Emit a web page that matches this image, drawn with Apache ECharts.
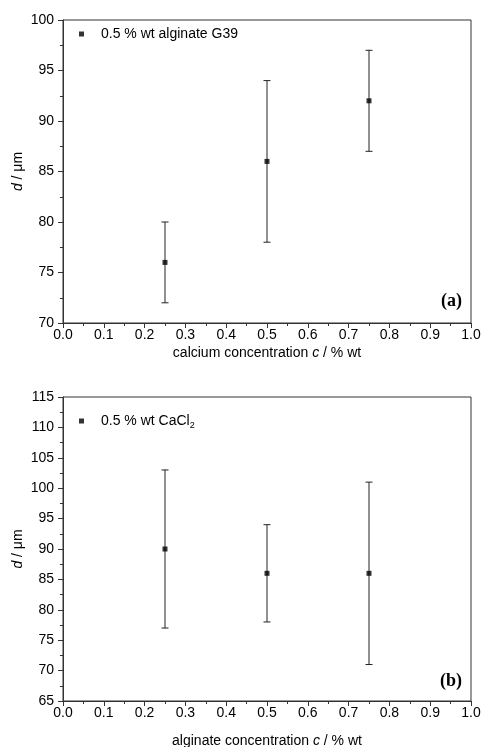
<!DOCTYPE html>
<html><head><meta charset="utf-8">
<script src="https://cdn.jsdelivr.net/npm/echarts@6/dist/echarts.min.js"></script>
<style>html,body{margin:0;padding:0;background:#fff}#c{width:483px;height:747px}</style>
</head><body><div id="c"></div>
<script>
// Panel (a): calcium concentration series
const xA = [0.25, 0.5, 0.75];
const dA = [76, 86, 92];
const lowA = [72, 78, 87];
const highA = [80, 94, 97];
// Panel (b): alginate concentration series
const xB = [0.25, 0.5, 0.75];
const dB = [90, 86, 86];
const lowB = [77, 78, 71];
const highB = [103, 94, 101];

const nameA = '0.5 % wt alginate G39';
const nameB = '0.5 % wt CaCl2';
const FONT = 'Liberation Sans, Arial, sans-serif';
const AX = '#333';

function xAxisCfg(gi, title, gap) {
  return {
    gridIndex: gi, type: 'value', min: 0, max: 1, interval: 0.1,
    name: title, nameLocation: 'middle', nameGap: gap, nameMoveOverlap: false,
    nameTextStyle: { fontFamily: FONT, fontSize: 14, color: '#000', rich: {i: {fontFamily: FONT, fontSize: 14, fontStyle: 'italic', color: '#000'}} },
    axisLine: { lineStyle: { color: AX, width: 1 } },
    axisTick: { inside: false, length: 5, lineStyle: { color: AX } },
    minorTick: { show: true, splitNumber: 2, length: 3, lineStyle: { color: AX } },
    splitLine: { show: false },
    axisLabel: { fontFamily: FONT, fontSize: 14, color: '#000', margin: 5, formatter: v => v.toFixed(1) }
  };
}
function yAxisCfg(gi, mn, mx) {
  return {
    gridIndex: gi, type: 'value', min: mn, max: mx, interval: 5,
    name: '{i|d} / μm', nameLocation: 'middle', nameGap: 38, nameRotate: 90, nameMoveOverlap: false,
    nameTextStyle: { fontFamily: FONT, fontSize: 14, color: '#000', rich: {i: {fontFamily: FONT, fontSize: 14, fontStyle: 'italic', color: '#000'}} },
    axisLine: { show: true, lineStyle: { color: AX, width: 1 } },
    axisTick: { inside: false, length: 5, lineStyle: { color: AX } },
    minorTick: { show: true, splitNumber: 2, length: 3, lineStyle: { color: AX } },
    splitLine: { show: false },
    axisLabel: { fontFamily: FONT, fontSize: 14, color: '#000', margin: 9 }
  };
}
function errSeries(gi, xs, lo, hi) {
  return {
    type: 'custom', xAxisIndex: gi, yAxisIndex: gi, silent: true, z: 2,
    data: xs.map((x, i) => [x, lo[i], hi[i]]),
    encode: { x: 0, y: [1, 2] },
    renderItem: function (params, api) {
      const p1 = api.coord([api.value(0), api.value(1)]);
      const p2 = api.coord([api.value(0), api.value(2)]);
      const w = 3.5;
      const st = { stroke: '#222', lineWidth: 1 };
      return { type: 'group', children: [
        { type: 'line', shape: { x1: p1[0], y1: p1[1], x2: p2[0], y2: p2[1] }, style: st },
        { type: 'line', shape: { x1: p1[0] - w, y1: p1[1], x2: p1[0] + w, y2: p1[1] }, style: st },
        { type: 'line', shape: { x1: p2[0] - w, y1: p2[1], x2: p2[0] + w, y2: p2[1] }, style: st }
      ]};
    }
  };
}

const chart = echarts.init(document.getElementById('c'), null, { renderer: 'canvas' });
chart.setOption({
  animation: false,
  backgroundColor: '#fff',
  grid: [
    { left: 63, right: 12, top: 20, height: 303, show: true, borderColor: AX, borderWidth: 1, containLabel: false, outerBoundsMode: 'none' },
    { left: 63, right: 12, top: 397, height: 304, show: true, borderColor: AX, borderWidth: 1, containLabel: false, outerBoundsMode: 'none' }
  ],
  xAxis: [
    xAxisCfg(0, 'calcium concentration {i|c} / % wt', 23),
    xAxisCfg(1, 'alginate concentration {i|c} / % wt', 33)
  ],
  yAxis: [ yAxisCfg(0, 70, 100), yAxisCfg(1, 65, 115) ],
  legend: [
    { data: [nameA], left: 74, top: 22, icon: 'rect', itemWidth: 5, itemHeight: 5, itemGap: 5,
      textStyle: { fontFamily: FONT, fontSize: 14, color: '#000', padding: [0, 0, 0, 12] } },
    { data: [nameB], left: 74, top: 409, icon: 'rect', itemWidth: 5, itemHeight: 5, itemGap: 5,
      formatter: () => '0.5 % wt CaCl{s|2}',
      textStyle: { fontFamily: FONT, fontSize: 14, color: '#000', padding: [0, 0, 0, 12],
        rich: { s: { fontFamily: FONT, fontSize: 9, color: '#000', verticalAlign: 'bottom', padding: [10, 0, 0, 0] } } } }
  ],
  title: [
    { text: '(a)', right: 16, top: 287, textStyle: { fontFamily: 'Liberation Serif, Times New Roman, serif', fontWeight: 'bold', fontSize: 18, color: '#000' } },
    { text: '(b)', right: 16, top: 667, textStyle: { fontFamily: 'Liberation Serif, Times New Roman, serif', fontWeight: 'bold', fontSize: 18, color: '#000' } }
  ],
  series: [
    errSeries(0, xA, lowA, highA),
    { name: nameA, type: 'scatter', xAxisIndex: 0, yAxisIndex: 0, symbol: 'rect', symbolSize: 5, z: 3,
      itemStyle: { color: '#000' }, data: xA.map((x, i) => [x, dA[i]]) },
    errSeries(1, xB, lowB, highB),
    { name: nameB, type: 'scatter', xAxisIndex: 1, yAxisIndex: 1, symbol: 'rect', symbolSize: 5, z: 3,
      itemStyle: { color: '#000' }, data: xB.map((x, i) => [x, dB[i]]) }
  ]
});
</script></body></html>
